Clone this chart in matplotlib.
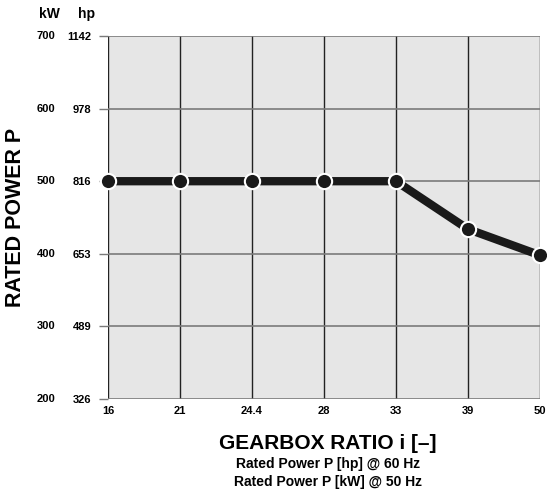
import matplotlib
matplotlib.use("Agg")
import matplotlib.pyplot as plt

ratios = ["16", "21", "24.4", "28", "33", "39", "50"]
power_kw = [500, 500, 500, 500, 500, 434, 398]
kw_ticks = [200, 300, 400, 500, 600, 700]
hp_labels = ["326", "489", "653", "816", "978", "1142"]

font = "Liberation Sans"

fig = plt.figure(figsize=(5.47, 4.94), dpi=100)
ax = fig.add_axes([0.1974, 0.1923, 0.9872 - 0.1974, 0.9271 - 0.1923])
ax.set_facecolor("#e6e6e6")
for s in ax.spines.values():
    s.set_visible(False)

x = list(range(len(ratios)))
ax.set_xlim(0, len(ratios) - 1)
ax.set_ylim(200, 700)

for xi in x:
    ax.axvline(xi, color="#222222", lw=1.0, zorder=1)
for yv in kw_ticks:
    ax.axhline(yv, color="#7a7a7a", lw=1.2, zorder=1)

ax.plot(x, power_kw, color="#1a1a1a", lw=6, solid_capstyle="butt", zorder=3, clip_on=False)
ax.plot(x, power_kw, "o", ms=11, mfc="#1a1a1a", mec="white", mew=1.5, zorder=4, clip_on=False)

ax.set_xticks(x)
ax.set_xticklabels(ratios, fontfamily=font, fontweight="bold", fontsize=8)
ax.tick_params(axis="x", length=0, pad=5)
ax.set_yticks(kw_ticks)
ax.set_yticklabels(hp_labels, fontfamily=font, fontweight="bold", fontsize=8)
ax.tick_params(axis="y", length=6.5, width=1, color="#7a7a7a", pad=5.5)

ytr = ax.get_yaxis_transform()
for yv in kw_ticks:
    ax.text(-0.122, yv, str(yv), transform=ytr, ha="right", va="center",
            fontfamily=font, fontweight="bold", fontsize=8)
ax.text(-0.136, 1.06, "kW", transform=ax.transAxes, ha="center", va="center",
        fontfamily=font, fontweight="bold", fontsize=10)
ax.text(-0.05, 1.06, "hp", transform=ax.transAxes, ha="center", va="center",
        fontfamily=font, fontweight="bold", fontsize=10)

ax.set_ylabel("RATED POWER P", fontfamily=font, fontweight="bold", fontsize=15.5)
ax.yaxis.set_label_coords(-0.19, 0.5)

fig.text(0.6, 1 - 443 / 494, "GEARBOX RATIO i [–]", ha="center", va="center",
         fontfamily=font, fontweight="bold", fontsize=15)
fig.text(0.6, 1 - 464 / 494, "Rated Power P [hp] @ 60 Hz", ha="center", va="center",
         fontfamily=font, fontweight="bold", fontsize=10)
fig.text(0.6, 1 - 482 / 494, "Rated Power P [kW] @ 50 Hz", ha="center", va="center",
         fontfamily=font, fontweight="bold", fontsize=10)

fig.savefig("out.png", dpi=100)
